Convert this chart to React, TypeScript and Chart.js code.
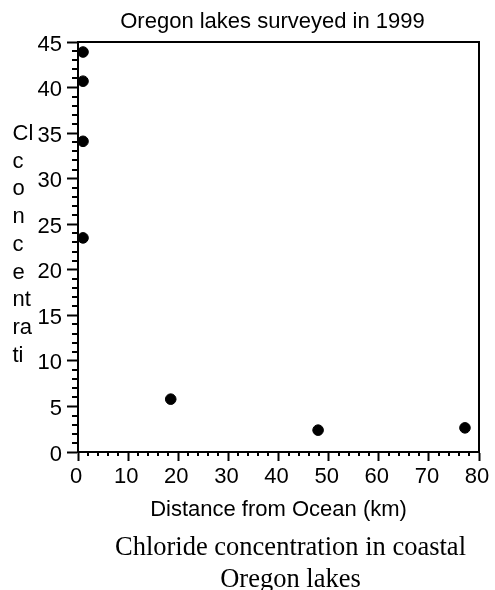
import { useEffect, useRef } from "react";
import { Chart, registerables } from "chart.js";

Chart.register(...registerables);

// ---- data ----
const distanceKm = [1, 1, 1, 1, 18.5, 47.9, 77.2];
const chlorideConc = [43.9, 40.7, 34.1, 23.5, 5.8, 2.4, 2.65];

const chartTitle = "Oregon lakes surveyed in 1999";
const xAxisTitle = "Distance from Ocean (km)";
const yLabelLines = ["Cl", "c", "o", "n", "c", "e", "nt", "ra", "ti"];
const captionText = "Chloride concentration in coastal Oregon lakes";

const xMin = 0;
const xMax = 80;
const xMajorStep = 10;
const xMinorStep = 2;
const yMin = 0;
const yMax = 45;
const yMajorStep = 5;
const yMinorStep = 1;

const SANS = '"Liberation Sans", Arial, sans-serif';

const framePlugin = {
  id: "frameMinorYLabel",
  afterDraw(chart: any) {
    const { ctx, chartArea: a, scales } = chart;
    const xs = scales.x;
    const ys = scales.y;
    ctx.save();
    ctx.strokeStyle = "#000";
    ctx.lineWidth = 2;
    ctx.beginPath();
    ctx.moveTo(a.left, a.top);
    ctx.lineTo(a.right, a.top);
    ctx.lineTo(a.right, a.bottom);
    ctx.stroke();

    ctx.beginPath();
    for (let v = yMin; v <= yMax + 1e-9; v += yMinorStep) {
      if (Math.abs(v % yMajorStep) < 1e-9) continue;
      const py = Math.round(ys.getPixelForValue(v));
      ctx.moveTo(a.left - 6, py);
      ctx.lineTo(a.left, py);
    }
    for (let v = xMin; v <= xMax + 1e-9; v += xMinorStep) {
      if (Math.abs(v % xMajorStep) < 1e-9) continue;
      const px = Math.round(xs.getPixelForValue(v));
      ctx.moveTo(px, a.bottom);
      ctx.lineTo(px, a.bottom + 4);
    }
    ctx.stroke();

    ctx.fillStyle = "#000";
    ctx.font = "22px " + SANS;
    // chart title
    ctx.textAlign = "center";
    ctx.textBaseline = "middle";
    ctx.fillText(chartTitle, 272.5, 21.5);
    // y axis label (narrow wrapped)
    ctx.textAlign = "left";
    ctx.textBaseline = "alphabetic";
    yLabelLines.forEach((t, i) => {
      ctx.fillText(t, 12.5, 140 + i * 27.7);
    });
    ctx.restore();
  },
};

export default function App() {
  const canvasRef = useRef<HTMLCanvasElement | null>(null);

  useEffect(() => {
    if (!canvasRef.current) return;
    const chart = new Chart(canvasRef.current, {
      type: "scatter",
      data: {
        datasets: [
          {
            data: distanceKm.map((d, i) => ({ x: d, y: chlorideConc[i] })),
            backgroundColor: "#000",
            borderColor: "#000",
            borderWidth: 1,
            pointRadius: 5.3,
            pointHoverRadius: 5.3,
            clip: false as any,
          },
        ],
      },
      options: {
        animation: false,
        responsive: true,
        maintainAspectRatio: false,
        layout: { padding: { left: 28, right: 16, top: 42, bottom: 0 } },
        plugins: {
          legend: { display: false },
          tooltip: { enabled: false },
          title: { display: false },
        },
        scales: {
          x: {
            type: "linear",
            min: xMin,
            max: xMax,
            border: { display: true, color: "#000", width: 2 },
            grid: {
              display: true,
              drawOnChartArea: false,
              drawTicks: true,
              tickLength: 9,
              tickWidth: 2,
              tickColor: "#000",
            },
            ticks: {
              stepSize: xMajorStep,
              color: "#000",
              font: { family: SANS, size: 22 },
              padding: 3,
              labelOffset: -2,
              maxRotation: 0,
              autoSkip: false,
            },
            title: {
              display: true,
              text: xAxisTitle,
              color: "#000",
              font: { family: SANS, size: 22 },
              padding: { top: 3.4, bottom: 16.8 },
            },
            afterFit: (scale: any) => {
              scale.paddingLeft = 0;
              scale.paddingRight = 0;
            },
          },
          y: {
            type: "linear",
            min: yMin,
            max: yMax,
            border: { display: true, color: "#000", width: 2 },
            grid: {
              display: true,
              drawOnChartArea: false,
              drawTicks: true,
              tickLength: 11,
              tickWidth: 2,
              tickColor: "#000",
            },
            ticks: {
              stepSize: yMajorStep,
              color: "#000",
              font: { family: SANS, size: 22 },
              padding: 5,
              labelOffset: 2.5,
              autoSkip: false,
            },
            afterFit: (scale: any) => {
              scale.width = 50;
              scale.paddingTop = 0;
              scale.paddingBottom = 0;
            },
          },
        },
      },
      plugins: [framePlugin],
    });
    return () => chart.destroy();
  }, []);

  return (
    <div style={{ position: "absolute", left: 0, top: 0, width: 495, height: 590, background: "#fff" }}>
      <div style={{ position: "absolute", left: 0, top: 0, width: 495, height: 540 }}>
        <canvas ref={canvasRef} />
      </div>
      <div
        style={{
          position: "absolute",
          left: 100,
          top: 530,
          width: 381,
          textAlign: "center",
          fontFamily: '"Liberation Serif", "Times New Roman", serif',
          fontSize: "26.5px",
          lineHeight: "32px",
          color: "#000",
        }}
      >
        {captionText}
      </div>
    </div>
  );
}
